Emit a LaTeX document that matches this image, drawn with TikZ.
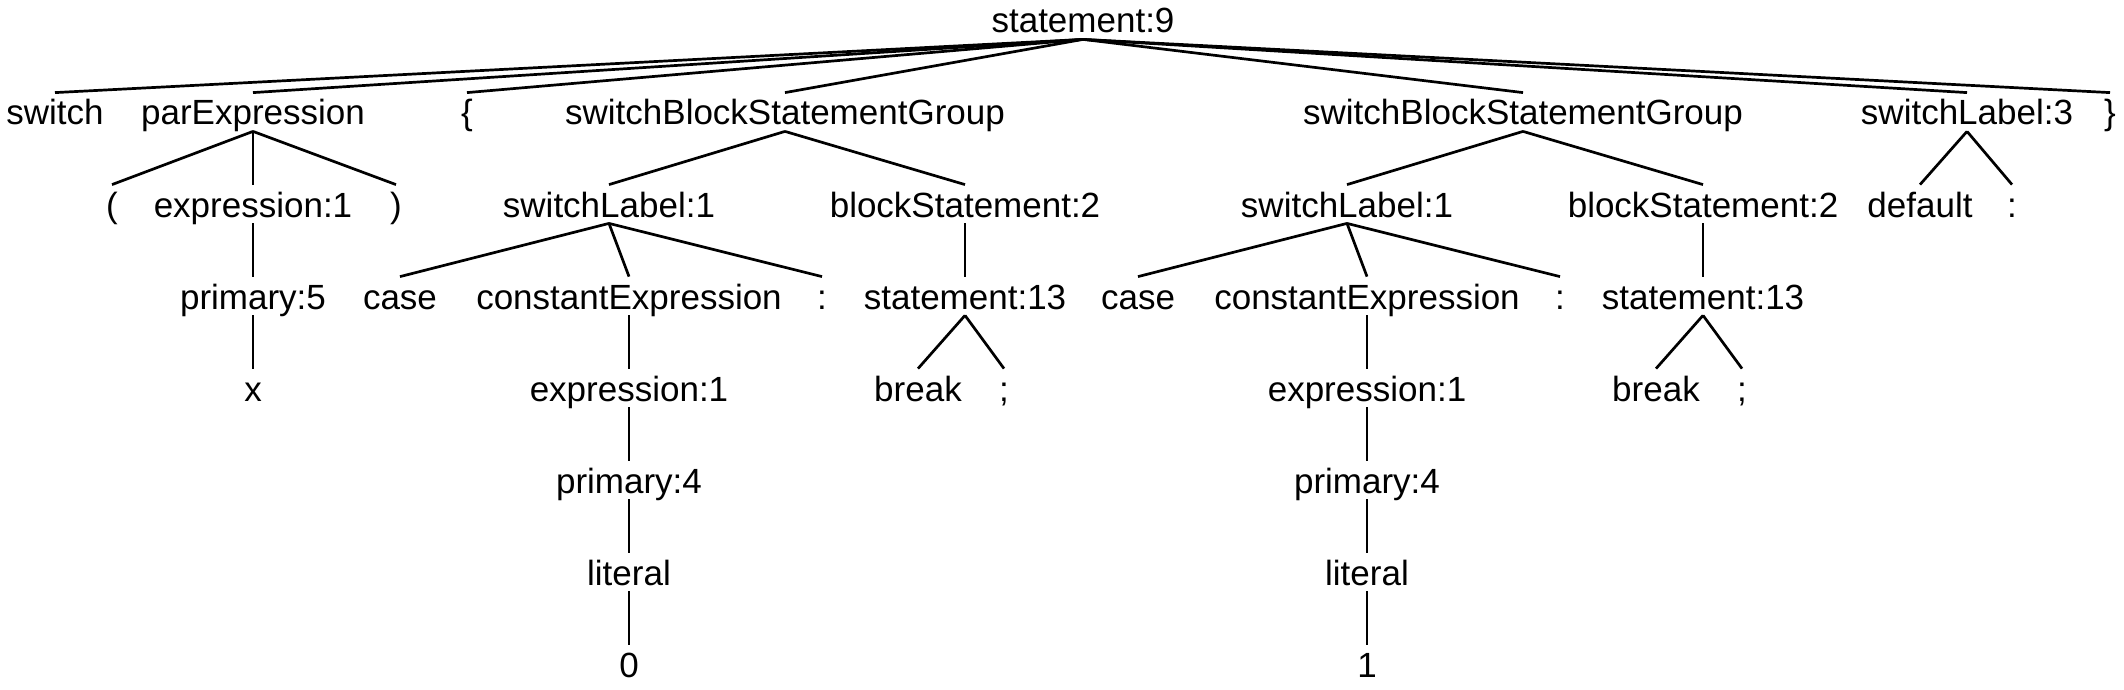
\documentclass[tikz,border=0pt]{standalone}
\usepackage{fontspec}
\setmainfont{Liberation Sans}
\begin{document}
\begin{tikzpicture}[x=0.5pt,y=-0.5pt,
  tn/.style={anchor=base, inner sep=0pt, text height=16pt, text depth=3pt, font=\fontsize{17.5}{20}\selectfont},
  edge/.style={line width=1.35pt}]
\useasboundingbox (0,0) rectangle (2124,690);
% level 0
\node[tn] (s9) at (1083,33) {statement:9};
% level 1
\node[tn] (sw)  at (55,125)   {switch};
\node[tn] (pe)  at (253,125)  {parExpression};
\node[tn] (lb)  at (467,125)  {\{};
\node[tn] (g1)  at (785,125)  {switchBlockStatementGroup};
\node[tn] (g2)  at (1523,125) {switchBlockStatementGroup};
\node[tn] (sl3) at (1967,125) {switchLabel:3};
\node[tn] (rb)  at (2110,125) {\}};
% level 2
\node[tn] (lp)   at (112,217)  {(};
\node[tn] (e1)   at (253,217)  {expression:1};
\node[tn] (rp)   at (396,217)  {)};
\node[tn] (swa)  at (609,217)  {switchLabel:1};
\node[tn] (bsa)  at (965,217)  {blockStatement:2};
\node[tn] (swb)  at (1347,217) {switchLabel:1};
\node[tn] (bsb)  at (1703,217) {blockStatement:2};
\node[tn] (def)  at (1920,217) {default};
\node[tn] (colc) at (2012,217) {:};
% level 3
\node[tn] (p5)    at (253,309)  {primary:5};
\node[tn] (casea) at (400,309)  {case};
\node[tn] (cea)   at (629,309)  {constantExpression};
\node[tn] (cola)  at (822,309)  {:};
\node[tn] (sta)   at (965,309)  {statement:13};
\node[tn] (caseb) at (1138,309) {case};
\node[tn] (ceb)   at (1367,309) {constantExpression};
\node[tn] (colb)  at (1560,309) {:};
\node[tn] (stb)   at (1703,309) {statement:13};
% level 4
\node[tn] (xx)  at (253,401)  {x};
\node[tn] (ea)  at (629,401)  {expression:1};
\node[tn] (bra) at (918,401)  {break};
\node[tn] (sca) at (1004,401) {;};
\node[tn] (eb)  at (1367,401) {expression:1};
\node[tn] (brb) at (1656,401) {break};
\node[tn] (scb) at (1742,401) {;};
% level 5
\node[tn] (p4a) at (629,493)  {primary:4};
\node[tn] (p4b) at (1367,493) {primary:4};
% level 6
\node[tn] (lita) at (629,585)  {literal};
\node[tn] (litb) at (1367,585) {literal};
% level 7
\node[tn] (za) at (629,677)  {0};
\node[tn] (ob) at (1367,677) {1};
% edges
\foreach \p/\c in {s9/sw, s9/pe, s9/lb, s9/g1, s9/g2, s9/sl3, s9/rb,
  pe/lp, pe/e1, pe/rp, g1/swa, g1/bsa, g2/swb, g2/bsb, sl3/def, sl3/colc,
  e1/p5, swa/casea, swa/cea, swa/cola, bsa/sta, swb/caseb, swb/ceb, swb/colb, bsb/stb,
  p5/xx, cea/ea, sta/bra, sta/sca, ceb/eb, stb/brb, stb/scb,
  ea/p4a, eb/p4b, p4a/lita, p4b/litb, lita/za, litb/ob}
  \draw[edge] (\p.south) -- (\c.north);
\end{tikzpicture}
\end{document}
